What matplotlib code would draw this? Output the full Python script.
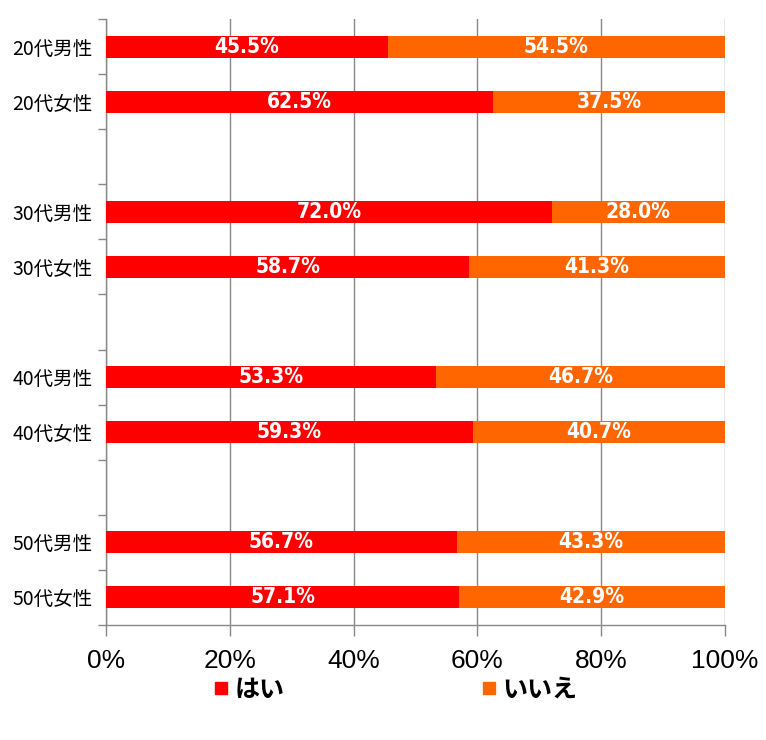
import numpy as np
from matplotlib import pyplot as plt
from matplotlib.lines import Line2D

plt.rcParams['font.family'] = ['Noto Sans CJK JP', 'DejaVu Sans']

categories = ['20代男性', '20代女性', '30代男性', '30代女性',
              '40代男性', '40代女性', '50代男性', '50代女性']
yes = [45.5, 62.5, 72.0, 58.7, 53.3, 59.3, 56.7, 57.1]
no = [54.5, 37.5, 28.0, 41.3, 46.7, 40.7, 43.3, 42.9]
series_names = ['はい', 'いいえ']
colors = ['#FF0000', '#FF6600']
xticks = [0, 20, 40, 60, 80, 100]

# two bars per age group, one empty slot between groups
pos = np.array([(i // 2) * 3 + i % 2 for i in range(len(categories))])
nslots = pos.max() + 1

fig = plt.figure(figsize=(7.66, 7.40), dpi=100)
ax = fig.add_axes([106 / 766, 1 - 625 / 740, (725 - 106) / 766, (625 - 19) / 740])

ax.barh(pos, yes, height=0.4, color=colors[0], zorder=3)
ax.barh(pos, no, left=yes, height=0.4, color=colors[1], zorder=3)

lab_font = dict(color='white', fontsize=15, fontweight='bold',
                family='DejaVu Sans', fontstretch='condensed',
                ha='center', va='center', zorder=4)
for p, a, b in zip(pos, yes, no):
    ax.text(a / 2, p, f'{a:.1f}%', **lab_font)
    ax.text(a + b / 2, p, f'{b:.1f}%', **lab_font)

ax.set_xlim(0, 100)
ax.set_ylim(nslots - 0.5, -0.5)
ax.set_xticks(xticks)
ax.set_xticklabels([f'{t}%' for t in xticks], fontsize=19, family='Liberation Sans')
ax.set_yticks(pos)
ax.set_yticklabels(categories, fontsize=14)
ax.tick_params(axis='y', which='major', length=0, pad=9.5)
ax.set_yticks(np.arange(nslots + 1) - 0.5, minor=True)
ax.tick_params(axis='y', which='minor', length=6, color='#888888', width=1)
ax.tick_params(axis='x', length=8, color='#888888', width=1, pad=9)

ax.grid(axis='x', color='#888888', linewidth=1, zorder=0)
for s in ['top', 'right']:
    ax.spines[s].set_visible(False)
for s in ['left', 'bottom']:
    ax.spines[s].set_color('#888888')
    ax.spines[s].set_linewidth(1)

handles = [Line2D([], [], marker='s', linestyle='none', color=c, markersize=8, label=n)
           for c, n in zip(colors, series_names)]
leg = fig.legend(handles=handles, loc='center', bbox_to_anchor=(0.517, 1 - 690 / 740),
                 ncol=2, frameon=False, handlelength=0.5,
                 handletextpad=0.3, columnspacing=7.9,
                 prop=dict(size=18, weight='bold', family=['Noto Sans CJK JP', 'DejaVu Sans']))

fig.savefig('out.png', dpi=100)
